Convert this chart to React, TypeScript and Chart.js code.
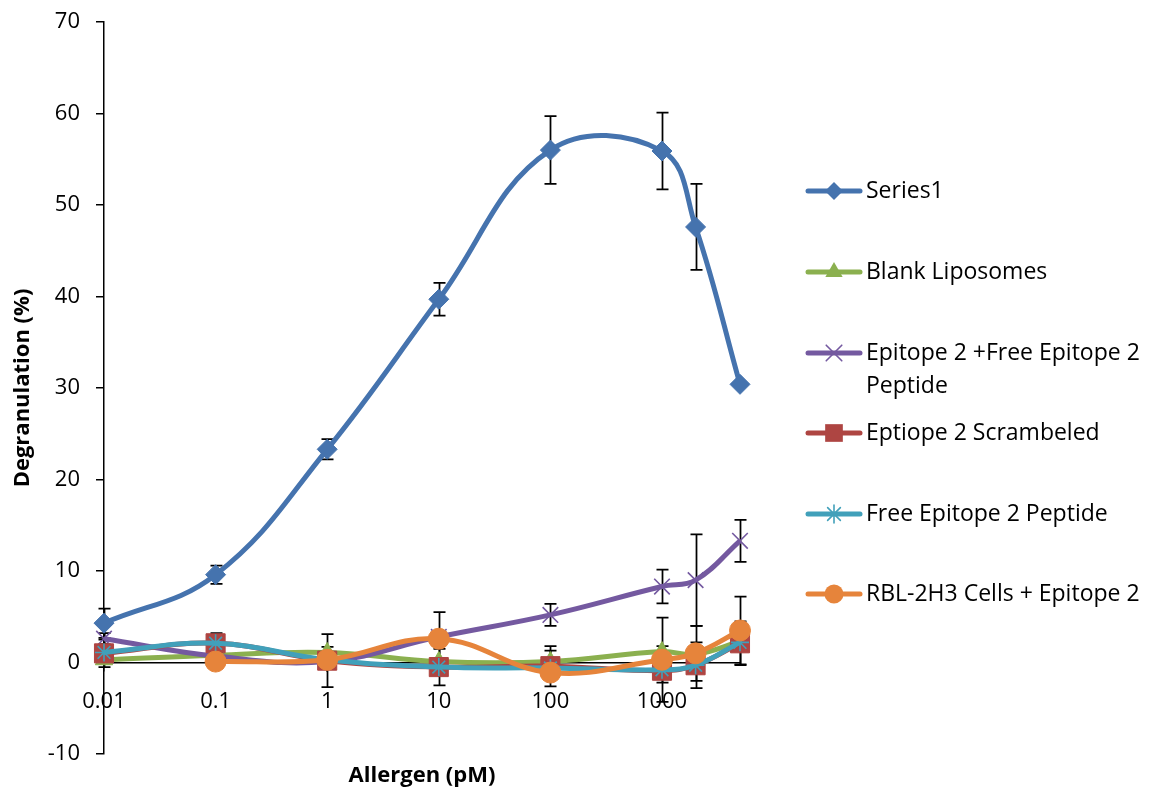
import React, { useEffect, useRef } from 'react';
import { Chart, registerables } from 'chart.js';

Chart.register(...registerables);

// ---------- data ----------
const concentrations = [0.01, 0.1, 1, 10, 100, 1000, 2000, 5000];
const xTickValues = [0.01, 0.1, 1, 10, 100, 1000];
const xTickLabels = ['0.01', '0.1', '1', '10', '100', '1000'];

const seriesNames = [
  'Series1',
  'Blank Liposomes',
  'Epitope 2 +Free Epitope 2 Peptide',
  'Eptiope 2 Scrambeled',
  'Free Epitope 2 Peptide',
  'RBL-2H3 Cells + Epitope 2',
];
const legendLines = [
  ['Series1'],
  ['Blank Liposomes'],
  ['Epitope 2 +Free Epitope 2', 'Peptide'],
  ['Eptiope 2 Scrambeled'],
  ['Free Epitope 2 Peptide'],
  ['RBL-2H3 Cells + Epitope 2'],
];

const series1 = [4.3, 9.6, 23.3, 39.7, 56.0, 55.9, 47.6, 30.4];
const series1Err = [1.6, 1.0, 1.1, 1.8, 3.7, 4.2, 4.7, 0];

const blankLiposomes = [0.3, 0.8, 1.1, 0.1, 0.1, 1.2, 0.9, 2.3];
const blankErr = [0.4, 0.3, 0.6, 0.4, 1.2, 0.6, 0.8, 0.8];

const epitopeFree = [2.6, 0.7, 0.1, 2.8, 5.2, 8.3, 9.0, 13.3];
const epitopeFreeErr = [0.6, 0.4, 0.5, 2.7, 1.2, 1.85, 5.0, 2.3];

const scrambled = [1.0, 2.1, 0.2, -0.5, -0.4, -0.9, -0.3, 2.1];
const scrambledErr = [1.5, 1.1, 2.9, 2.0, 2.2, 1.3, 2.5, 2.4];

const freePeptide = [1.1, 2.1, 0.3, -0.5, -0.6, -0.8, -0.3, 2.2];
const freePeptideErr = [0.5, 0.5, 0.4, 0.4, 0.4, 0.3, 0.6, 0.5];

const rblCells: (number | null)[] = [null, 0.1, 0.3, 2.6, -1.1, 0.3, 1.0, 3.5];
const rblErr = [0, 0.3, 0.4, 0.5, 0.3, 4.6, 3.0, 3.7];

const seriesValues: (number | null)[][] = [series1, blankLiposomes, epitopeFree, scrambled, freePeptide, rblCells];
const seriesErrors: number[][] = [series1Err, blankErr, epitopeFreeErr, scrambledErr, freePeptideErr, rblErr];

// ---------- styles ----------
const FONT = "'Open Sans', 'DejaVu Sans', sans-serif";
const styles = [
  { color: '#4573AE', point: 'rectRot', r: 10, lr: 9, bw: 1 },
  { color: '#8BB04F', point: 'triangle', r: 10, lr: 10, bw: 1 },
  { color: '#7459A0', point: 'crossRot', r: 11, lr: 11, bw: 1.6 },
  { color: '#AE4542', point: 'rect', r: 13.5, lr: 12.5, bw: 1 },
  { color: '#41A0BA', point: 'star', r: 9, lr: 9, bw: 1.6 },
  { color: '#E6843B', point: 'circle', r: 10.5, lr: 9.5, bw: 1 },
];
const legendY = [191, 272, 353, 433, 514, 594];

function drawMarker(ctx: CanvasRenderingContext2D, style: string, x: number, y: number, r: number, color: string) {
  ctx.save();
  ctx.fillStyle = color;
  ctx.strokeStyle = color;
  ctx.lineWidth = 1.6;
  ctx.beginPath();
  if (style === 'rectRot') {
    ctx.moveTo(x - r, y); ctx.lineTo(x, y - r); ctx.lineTo(x + r, y); ctx.lineTo(x, y + r); ctx.closePath(); ctx.fill();
  } else if (style === 'triangle') {
    ctx.moveTo(x, y - r); ctx.lineTo(x + 0.866 * r, y + 0.5 * r); ctx.lineTo(x - 0.866 * r, y + 0.5 * r); ctx.closePath(); ctx.fill();
  } else if (style === 'rect') {
    const s = r * Math.SQRT1_2;
    ctx.rect(x - s, y - s, 2 * s, 2 * s); ctx.fill();
  } else if (style === 'circle') {
    ctx.arc(x, y, r, 0, Math.PI * 2); ctx.fill();
  } else if (style === 'crossRot') {
    const s = r * Math.SQRT1_2;
    ctx.moveTo(x - s, y - s); ctx.lineTo(x + s, y + s); ctx.moveTo(x - s, y + s); ctx.lineTo(x + s, y - s); ctx.stroke();
  } else if (style === 'star') {
    const s = r * Math.SQRT1_2;
    ctx.moveTo(x - s, y - s); ctx.lineTo(x + s, y + s); ctx.moveTo(x - s, y + s); ctx.lineTo(x + s, y - s);
    ctx.moveTo(x, y - r); ctx.lineTo(x, y + r); ctx.moveTo(x - r, y); ctx.lineTo(x + r, y); ctx.stroke();
  }
  ctx.restore();
}

const errorBarPlugin = {
  id: 'errorBars',
  beforeDatasetsDraw(chart: any) {
    const ctx = chart.ctx as CanvasRenderingContext2D;
    const xs = chart.scales.x;
    const ys = chart.scales.y;
    ctx.save();
    ctx.strokeStyle = '#000';
    ctx.lineWidth = 1.75;
    seriesValues.forEach((vals, di) => {
      const errs = seriesErrors[di];
      vals.forEach((v, i) => {
        if (v == null || !errs[i]) return;
        const px = Math.round(xs.getPixelForValue(concentrations[i])) + 0.5;
        const top = ys.getPixelForValue(v + errs[i]);
        const bot = ys.getPixelForValue(v - errs[i]);
        ctx.beginPath();
        ctx.moveTo(px, top); ctx.lineTo(px, bot);
        ctx.moveTo(px - 6, top); ctx.lineTo(px + 6, top);
        ctx.moveTo(px - 6, bot); ctx.lineTo(px + 6, bot);
        ctx.stroke();
      });
    });
    ctx.restore();
  },
};

const textPlugin = {
  id: 'extraText',
  afterDraw(chart: any) {
    const ctx = chart.ctx as CanvasRenderingContext2D;
    const area = chart.chartArea;
    ctx.save();
    // x axis title
    ctx.fillStyle = '#000';
    ctx.font = `bold 22px ${FONT}`;
    ctx.textAlign = 'center';
    ctx.textBaseline = 'middle';
    ctx.fillText('Allergen (pM)', (area.left + area.right) / 2, 776);
    // legend
    ctx.font = `23px ${FONT}`;
    ctx.textAlign = 'left';
    seriesNames.forEach((_, i) => {
      const st = styles[i];
      const y = legendY[i];
      ctx.strokeStyle = st.color;
      ctx.lineWidth = 5;
      ctx.lineCap = 'round';
      ctx.beginPath();
      ctx.moveTo(808, y); ctx.lineTo(860, y);
      ctx.stroke();
      drawMarker(ctx, st.point, 834, y, st.lr, st.color);
      ctx.fillStyle = '#000';
      legendLines[i].forEach((line, li) => {
        ctx.fillText(line, 866, y + li * 33);
      });
    });
    ctx.restore();
  },
};

export default function App() {
  const ref = useRef<HTMLCanvasElement>(null);
  useEffect(() => {
    document.body.style.margin = '0';
    Chart.defaults.font.family = FONT;
    const datasets = seriesValues.map((vals, i) => {
      const st = styles[i];
      const data: { x: number; y: number }[] = [];
      vals.forEach((v, j) => {
        if (v != null) data.push({ x: concentrations[j], y: v });
      });
      return {
        label: seriesNames[i],
        data,
        borderColor: st.color,
        backgroundColor: st.color,
        borderWidth: 5,
        tension: 0.4,
        clip: false,
        pointStyle: st.point,
        pointRadius: st.r,
        pointBorderWidth: st.bw,
        pointBackgroundColor: st.color,
        pointBorderColor: st.color,
        order: 6 - i,
      };
    });
    const chart = new Chart(ref.current as HTMLCanvasElement, {
      type: 'line',
      data: { datasets } as any,
      options: {
        responsive: false,
        animation: false,
        events: [],
        layout: { padding: { left: 0, top: 22, right: 419, bottom: 36 } },
        plugins: { legend: { display: false }, tooltip: { enabled: false } },
        scales: {
          x: {
            type: 'logarithmic',
            min: 0.01,
            max: 5000,
            position: { y: 0 } as any,
            afterBuildTicks: (s: any) => {
              s.ticks = xTickValues.map((v) => ({ value: v }));
            },
            afterFit: (s: any) => {
              s.height = 0;
              s.paddingLeft = 0;
              s.paddingRight = 0;
            },
            ticks: {
              autoSkip: false,
              maxRotation: 0,
              color: '#000',
              padding: 18,
              font: { size: 22, family: FONT },
              callback: (_v: any, idx: number) => xTickLabels[idx],
            },
            grid: { display: true, drawOnChartArea: false, drawTicks: true, tickLength: 8, color: '#000', lineWidth: 1.5 },
            border: { display: true, color: '#000', width: 1.5 },
          },
          y: {
            type: 'linear',
            position: 'left',
            min: -10,
            max: 70,
            ticks: { stepSize: 10, color: '#000', padding: 16, font: { size: 22, family: FONT } },
            grid: { display: true, drawOnChartArea: false, drawTicks: true, tickLength: 8, color: '#000', lineWidth: 1.5 },
            border: { display: true, color: '#000', width: 1.5 },
            title: {
              display: true,
              text: 'Degranulation (%)',
              color: '#000',
              font: { size: 22, weight: 'bold', family: FONT },
              padding: { top: 10, bottom: 0 },
            },
            afterFit: (s: any) => {
              s.width = 104;
              s.paddingTop = 0;
              s.paddingBottom = 0;
            },
          },
        },
      } as any,
      plugins: [errorBarPlugin, textPlugin],
    });
    return () => chart.destroy();
  }, []);
  return (
    <div style={{ position: 'absolute', left: 0, top: 0, width: 1159, height: 790, background: '#fff' }}>
      <canvas ref={ref} width={1159} height={790} style={{ display: 'block', width: 1159, height: 790 }} />
    </div>
  );
}
